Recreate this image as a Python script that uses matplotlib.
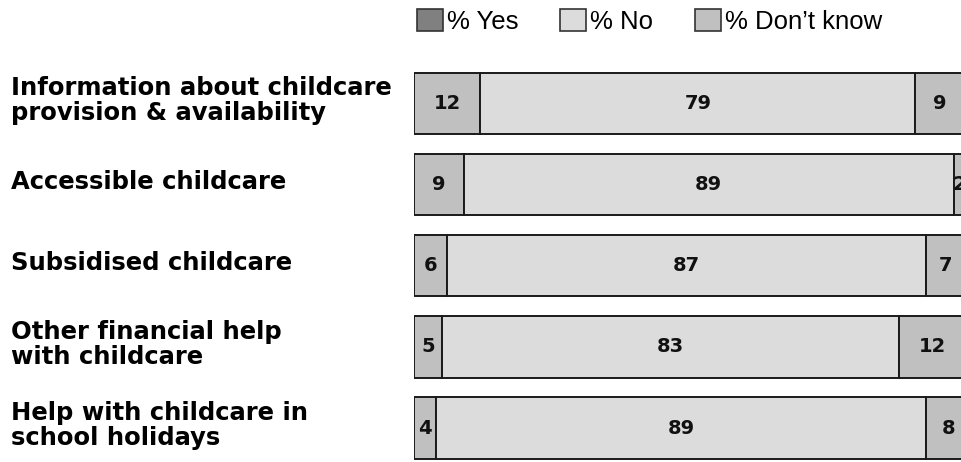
import matplotlib
matplotlib.use("Agg")
import matplotlib.pyplot as plt
from matplotlib.patches import Patch
from matplotlib.transforms import blended_transform_factory
import numpy as np

plt.rcParams['font.family'] = ['Liberation Sans', 'DejaVu Sans']

categories = [
    "Information about childcare\nprovision & availability",
    "Accessible childcare",
    "Subsidised childcare",
    "Other financial help\nwith childcare",
    "Help with childcare in\nschool holidays",
]
yes_vals = [12, 9, 6, 5, 4]
no_vals = [79, 89, 87, 83, 89]
dk_vals = [9, 2, 7, 12, 8]
series_names = ["% Yes", "% No", "% Don\u2019t know"]

c_yes_legend = "#808080"
c_seg1 = "#c0c0c0"
c_no = "#dcdcdc"
c_dk = "#c0c0c0"
edge = "#1a1a1a"

W, H = 961, 462
fig = plt.figure(figsize=(W / 100, H / 100), dpi=100)
ax = fig.add_axes([414 / W, (H - 468.7) / H, 551 / W, 406 / H])

y = np.arange(len(categories))
yes = np.array(yes_vals, float)
no = np.array(no_vals, float)
dk = np.array(dk_vals, float)
bh = 0.757
lw = 1.4

ax.barh(y, yes, height=bh, color=c_seg1, edgecolor=edge, linewidth=lw)
ax.barh(y, no, left=yes, height=bh, color=c_no, edgecolor=edge, linewidth=lw)
ax.barh(y, dk, left=yes + no, height=bh, color=c_dk, edgecolor=edge, linewidth=lw)

lab_kw = dict(ha='center', va='center', fontsize=14, fontweight='bold',
              color='#111111', family='DejaVu Sans')
for i in range(len(y)):
    ax.text(yes[i] / 2, y[i], str(yes_vals[i]), **lab_kw)
    ax.text(yes[i] + no[i] / 2, y[i], str(no_vals[i]), **lab_kw)
    ax.text(yes[i] + no[i] + dk[i] / 2, y[i], str(dk_vals[i]), clip_on=False, **lab_kw)

ax.set_xlim(0, 100)
ax.set_ylim(len(categories) - 0.5, -0.5)
ax.axis('off')

tr = blended_transform_factory(fig.transFigure, ax.transData)
for i, cat in enumerate(categories):
    ax.text(11 / W, y[i] - 0.03, cat, transform=tr, ha='left', va='center',
            fontsize=17.5, fontweight='bold', color='black', linespacing=1.05,
            family='DejaVu Sans')

handles = [Patch(facecolor=c_yes_legend, edgecolor='#333333', linewidth=1.2),
           Patch(facecolor=c_no, edgecolor='#333333', linewidth=1.2),
           Patch(facecolor=c_dk, edgecolor='#333333', linewidth=1.2)]
fig.legend(handles, series_names, loc='center left', bbox_to_anchor=(417 / W, 1 - 21.5 / H),
           ncol=3, frameon=False, fontsize=18.5, handlelength=1.0, handleheight=0.9,
           handletextpad=0.15, columnspacing=1.65, borderpad=0, borderaxespad=0)

fig.savefig("out.png", dpi=100)
